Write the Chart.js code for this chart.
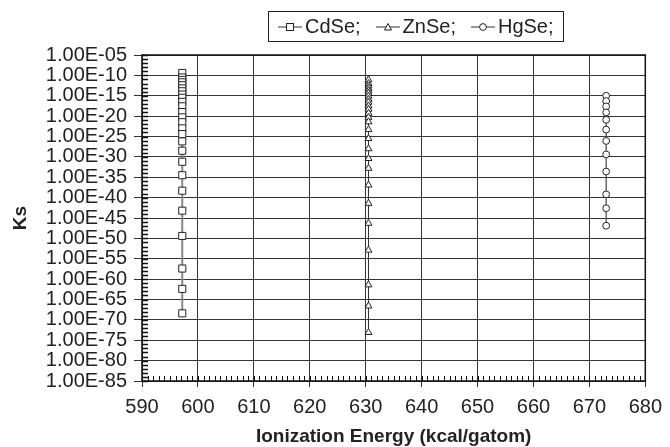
<!DOCTYPE html>
<html>
<head>
<meta charset="utf-8">
<script src="https://cdn.jsdelivr.net/npm/chart.js@4"></script>
<style>
  html, body { margin: 0; padding: 0; background: #fff; }
  #wrap { position: relative; width: 670px; height: 447px; }
  #legend {
    position: absolute; left: 268px; top: 11px;
    border: 1px solid #222; padding: 3px 9px;
    font: 20px "Liberation Sans", Arial, sans-serif; color: #222;
    white-space: nowrap; display: flex; align-items: center; gap: 15px;
  }
  .item { display: flex; align-items: center; gap: 3px; }
</style>
</head>
<body>
<div id="wrap">
  <canvas id="chart" width="670" height="447"></canvas>
  <div id="legend"></div>
</div>
<script>
/* ========= Data ========= */
const compounds = ["CdSe", "ZnSe", "HgSe"];
const ionizationEnergy = [597.2, 630.5, 673.0];   // kcal/gatom, one column per compound

// log10(Ks)
const cdseLogKs = [-9.4, -10.5, -11.1, -11.7, -12.4, -13.2, -13.9, -14.7, -15.5, -16.5, -17.6, -19.0,
  -20.3, -21.5, -23.0, -24.4, -26.2, -28.5, -31.2, -34.5, -38.3, -43.2, -49.4, -57.4, -62.4, -68.4];
const znseLogKs = [-11.1, -12.0, -12.6, -13.2, -13.8, -14.4, -15.1, -15.9, -16.6, -17.5, -18.3, -19.3,
  -20.3, -21.4, -23.3, -25.5, -28.0, -30.4, -32.8, -36.9, -41.4, -46.3, -52.9, -61.4, -66.6, -73.1];
const hgseLogKs = [-15.0, -16.3, -17.6, -19.1, -20.9, -23.3, -26.1, -29.4, -33.6, -39.2, -42.6, -46.9];

const yTickExps = [-5, -10, -15, -20, -25, -30, -35, -40, -45, -50, -55, -60, -65, -70, -75, -80, -85];
const xTicks = [590, 600, 610, 620, 630, 640, 650, 660, 670, 680];

/* ========= Styles ========= */
const FONT = '"Liberation Sans", Arial, sans-serif';
const markers = ["rect", "triangle", "circle"];
const markerRadius = [5, 4, 3.4];
const lineColors = ["#888", "#333", "#444"];
const lineWidths = [2, 1, 1.2];

function fmtKs(v) {
  const e = Math.round(Math.log10(v));
  return "1.00E-" + String(-e).padStart(2, "0");
}

const seriesLogKs = [cdseLogKs, znseLogKs, hgseLogKs];
const datasets = compounds.map((name, i) => ({
  label: name + ";",
  data: seriesLogKs[i].map(e => ({ x: ionizationEnergy[i], y: Math.pow(10, e) })),
  showLine: true,
  borderColor: lineColors[i],
  borderWidth: lineWidths[i],
  pointStyle: markers[i],
  pointRadius: markerRadius[i],
  pointBackgroundColor: "#fff",
  pointBorderColor: "#222",
  pointBorderWidth: 1
}));

/* ========= Frame + minor ticks ========= */
const frame = {
  id: "frame",
  beforeDatasetsDraw(chart) {
    const { ctx, chartArea: a, scales: { x, y } } = chart;
    ctx.save();
    ctx.strokeStyle = "#111";
    ctx.lineWidth = 1.5;
    ctx.beginPath();
    for (let e = -85; e <= -5; e++) {
      const py = Math.round(y.getPixelForValue(Math.pow(10, e))) + 0.5;
      ctx.moveTo(a.left, py); ctx.lineTo(a.left + 6, py);
    }
    ctx.stroke();
    ctx.lineWidth = 1;
    ctx.beginPath();
    for (let v = 590; v <= 680; v++) {
      const px = Math.round(x.getPixelForValue(v)) + 0.5;
      ctx.moveTo(px, a.bottom); ctx.lineTo(px, a.bottom - 5);
    }
    ctx.stroke();
    ctx.lineWidth = 1.5;
    ctx.strokeRect(a.left, a.top, a.right - a.left, a.bottom - a.top);
    ctx.restore();
  }
};

/* ========= Chart ========= */
new Chart(document.getElementById("chart"), {
  type: "scatter",
  data: { datasets },
  options: {
    responsive: false,
    animation: false,
    layout: { padding: { top: 55, right: 18, left: 0, bottom: 0 } },
    plugins: { legend: { display: false }, tooltip: { enabled: false } },
    scales: {
      x: {
        type: "linear", min: 590, max: 680,
        afterBuildTicks: s => { s.ticks = xTicks.map(v => ({ value: v })); },
        afterFit: s => { s.height = 66; },
        ticks: { color: "#222", font: { family: FONT, size: 20 }, padding: 8 },
        grid: { color: "#333", lineWidth: 1, tickLength: 6 },
        border: { display: false },
        title: {
          display: true, text: "Ionization Energy (kcal/gatom)", color: "#222",
          font: { family: FONT, size: 19, weight: "bold", lineHeight: 1.1 }, padding: 0
        }
      },
      y: {
        type: "logarithmic", min: 1e-85, max: 1e-5,
        afterBuildTicks: s => { s.ticks = yTickExps.map(e => ({ value: Math.pow(10, e) })); },
        afterFit: s => { s.width = 142; },
        ticks: { color: "#222", font: { family: FONT, size: 20 }, padding: 7, autoSkip: false, callback: v => fmtKs(v) },
        grid: { color: "#333", lineWidth: 1, tickLength: 8 },
        border: { display: false },
        title: {
          display: true, text: "Ks", color: "#222",
          font: { family: FONT, size: 19, weight: "bold" }, padding: { top: 9 }
        }
      }
    }
  },
  plugins: [frame]
});

/* ========= Legend ========= */
function markerSvg(i) {
  let shape;
  if (markers[i] === "rect") shape = '<rect x="8.5" y="2.5" width="7" height="7" fill="#fff" stroke="#222"/>';
  else if (markers[i] === "triangle") shape = '<polygon points="12,2.5 15.5,9 8.5,9" fill="#fff" stroke="#222"/>';
  else shape = '<circle cx="12" cy="6" r="3.4" fill="#fff" stroke="#222"/>';
  return '<svg width="24" height="12"><line x1="0" y1="6" x2="24" y2="6" stroke="#333" stroke-width="1"/>' + shape + '</svg>';
}
const legendEl = document.getElementById("legend");
compounds.forEach((name, i) => {
  const item = document.createElement("span");
  item.className = "item";
  item.innerHTML = markerSvg(i) + "<span>" + name + ";</span>";
  legendEl.appendChild(item);
});
</script>
</body>
</html>
